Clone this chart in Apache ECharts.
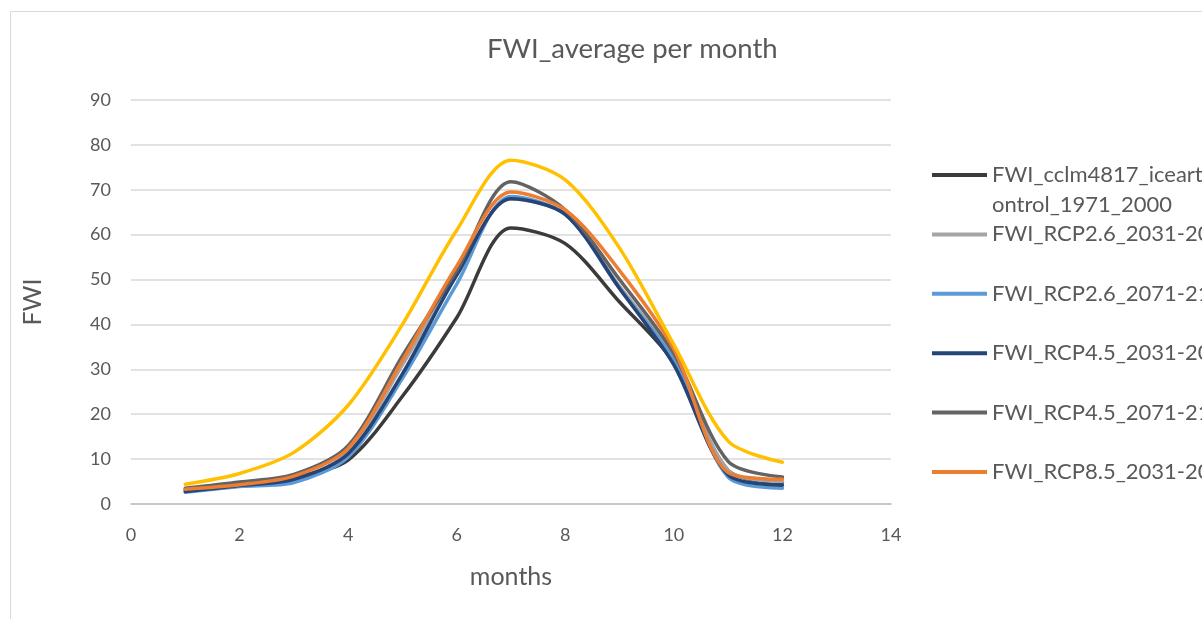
<!DOCTYPE html>
<html>
<head>
<meta charset="utf-8">
<script src="https://cdn.jsdelivr.net/npm/echarts@6/dist/echarts.min.js"></script>
<style>
    html, body { margin: 0; padding: 0; background: #fff; }
    #chart { width: 1202px; height: 619px; }
</style>
</head>
<body>
<div id="chart"></div>
<script>
// months on the x axis
const months = [1, 2, 3, 4, 5, 6, 7, 8, 9, 10, 11, 12];

// FWI values
const fwi_control = [3.2, 4.3, 6.0, 9.8, 24, 41.5, 61.5, 58, 45, 31.5, 7.5, 4.8];
const fwi_rcp26_2031 = [2.8, 4.0, 5.3, 11.6, 31, 51, 68, 64.5, 48.5, 32.5, 7.5, 5.0];
const fwi_rcp26_2071 = [2.6, 3.9, 4.8, 10.5, 28, 49, 68.5, 64.5, 48, 32, 6, 3.5];
const fwi_rcp45_2031 = [2.8, 4.1, 5.5, 11.2, 29, 51, 68, 64.5, 48, 31, 6.5, 4.2];
const fwi_rcp45_2071 = [3.5, 4.9, 6.6, 13, 33, 52, 71.8, 65.5, 50, 33.5, 9.5, 6];
const fwi_rcp85_2031 = [3.3, 4.3, 6.2, 12.4, 32, 53, 69.5, 65.5, 52, 34.5, 7, 5.5];
const fwi_rcp85_2071 = [4.4, 6.8, 11.5, 22, 40, 61, 76.6, 72.2, 57, 35.5, 14, 9.3];

const series_names = [
    "FWI_cclm4817_icearth_control_1971_2000",
    "FWI_RCP2.6_2031-2060",
    "FWI_RCP2.6_2071-2100",
    "FWI_RCP4.5_2031-2060",
    "FWI_RCP4.5_2071-2100",
    "FWI_RCP8.5_2031-2060",
    "FWI_RCP8.5_2071-2100",
];
const series_values = [
    fwi_control, fwi_rcp26_2031, fwi_rcp26_2071, fwi_rcp45_2031,
    fwi_rcp45_2071, fwi_rcp85_2031, fwi_rcp85_2071,
];
const series_colors = ["#3b3b3b", "#a5a5a5", "#5b9bd5", "#264478", "#636363", "#ed7d31", "#ffc000"];

const y_ticks = { min: 0, max: 90, interval: 10 };
const x_ticks = { min: 0, max: 14, interval: 2 };

const font = "Lato";
const text_color = "#595959";

const make_series = function () {
    return series_names.map((name, i) => ({
        name: name,
        type: "line",
        smooth: 0.3,
        showSymbol: false,
        symbol: "none",
        lineStyle: { width: 3.5, color: series_colors[i], cap: "round" },
        itemStyle: { color: series_colors[i] },
        data: months.map((m, k) => [m, series_values[i][k]]),
    }));
};

const echart_instance = echarts.init(document.getElementById("chart"));

const config = {
    animation: false,
    textStyle: { fontFamily: font, color: text_color },
    title: {
        text: "FWI_average per month",
        left: 487,
        top: 35,
        padding: 0,
        textStyle: { fontFamily: font, fontSize: 27.5, fontWeight: "normal", color: text_color },
    },
    grid: { left: 131, top: 100, width: 760, height: 404, containLabel: false },
    legend: {
        orient: "vertical",
        left: 932,
        top: 160.5,
        padding: 0,
        icon: "rect",
        itemWidth: 55,
        itemHeight: 4,
        itemGap: 30.4,
        data: series_names.slice(0, 6),
        formatter: (name) => (name.startsWith("FWI_cclm") ? "FWI_cclm4817_icearth_c" : name),
        textStyle: { fontFamily: font, fontSize: 22, color: text_color, lineHeight: 29 },
    },
    graphic: [
        {
            type: "rect",
            silent: true,
            shape: { x: 10.5, y: 11.5, width: 1300, height: 700 },
            style: { fill: "none", stroke: "#d9d9d9", lineWidth: 1 },
        },
        {
            type: "text",
            left: 992,
            top: 194,
            style: { text: "ontrol_1971_2000", font: "22px " + font, fill: text_color },
        },
    ],
    xAxis: {
        type: "value",
        min: x_ticks.min,
        max: x_ticks.max,
        interval: x_ticks.interval,
        name: "months",
        nameLocation: "middle",
        nameGap: 60,
        nameTextStyle: { fontFamily: font, fontSize: 25, color: text_color },
        axisLine: { show: true, lineStyle: { color: "#bfbfbf", width: 1.5 } },
        axisTick: { show: false },
        splitLine: { show: false },
        axisLabel: { fontFamily: font, fontSize: 18, color: text_color, margin: 22 },
    },
    yAxis: {
        type: "value",
        min: y_ticks.min,
        max: y_ticks.max,
        interval: y_ticks.interval,
        name: "FWI",
        nameLocation: "middle",
        nameGap: 86,
        nameRotate: 90,
        nameTextStyle: { fontFamily: font, fontSize: 25, color: text_color },
        axisLine: { show: false },
        axisTick: { show: false },
        splitLine: { lineStyle: { color: "#d9d9d9", width: 1.5 } },
        axisLabel: { fontFamily: font, fontSize: 18, color: text_color, margin: 20 },
    },
    series: make_series(),
};

echart_instance.setOption(config);
</script>
</body>
</html>
